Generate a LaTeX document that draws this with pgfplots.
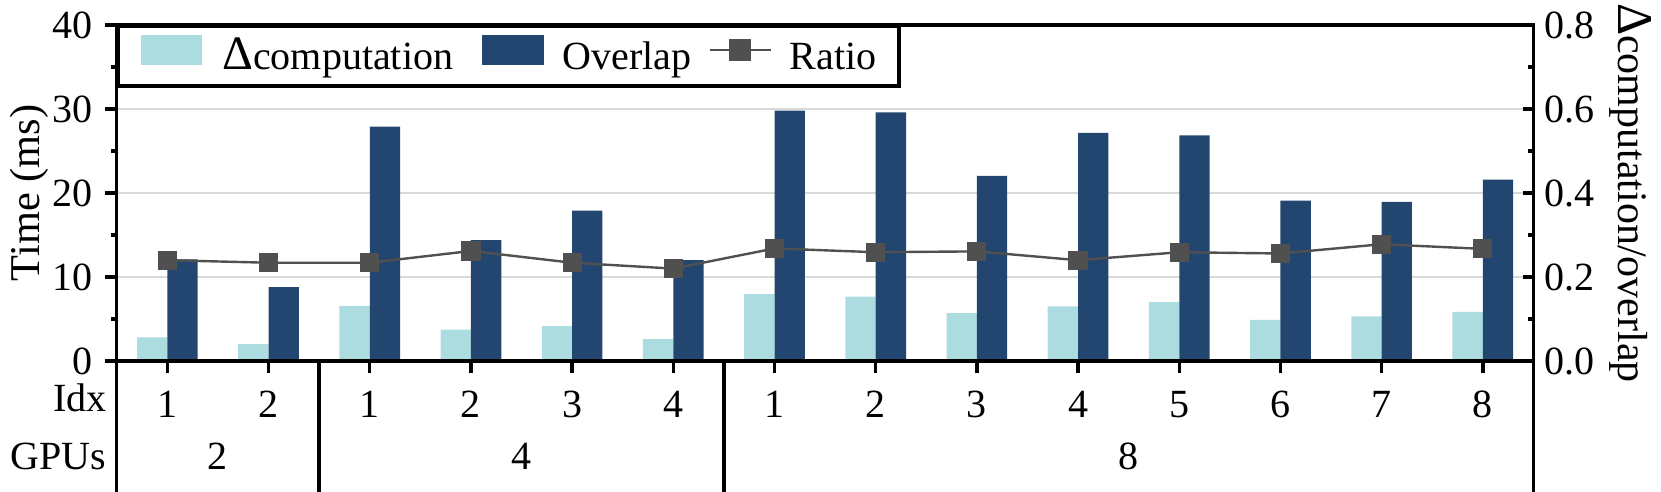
\documentclass[border=0pt]{standalone}
\usepackage{fontspec}
\setmainfont{Liberation Serif}
\usepackage{pgfplots}
\pgfplotsset{compat=1.18}
\definecolor{lightbar}{HTML}{ADDCE0}
\definecolor{darkbar}{HTML}{22466F}
\definecolor{ratiocol}{HTML}{505050}
\definecolor{gridgray}{HTML}{D9D9D9}
\newcommand{\bigdelta}{{\fontsize{12}{12}\selectfont Δ}}
\newcommand{\biggdelta}{{\fontsize{12.5}{12.5}\selectfont Δ}}
\begin{document}
\begin{tikzpicture}
\path[use as bounding box] (0,0) rectangle (415.25pt,-123pt);
\begin{axis}[
  at={(29.2pt,-90.25pt)}, anchor=south west, scale only axis,
  width=354.15pt, height=84pt,
  xmin=-0.5, xmax=13.5, ymin=0, ymax=40,
  enlargelimits=false,
  ybar, bar width=0.3,
  xtick={0,...,13}, xticklabels={1,2,1,2,3,4,1,2,3,4,5,6,7,8},
  ytick={0,10,20,30,40}, minor y tick num=1,
  xtick pos=bottom, ytick pos=left, tick align=outside,
  major tick length=3pt, minor tick length=1.5pt,
  axis line style={line width=0.85pt},
  tick style={black, line width=0.85pt},
  ymajorgrids, grid style={gridgray, line width=0.3pt},
  /pgf/number format/assume math mode=true,
  tick label style={font=\fontsize{10}{12}\selectfont},
  label style={font=\fontsize{10.6}{12}\selectfont},
  xticklabel style={anchor=base, inner sep=0pt, yshift=-11.2pt},
  yticklabel style={anchor=east, inner sep=0pt, xshift=-2.75pt},
  ylabel={Time (ms)},
  ylabel style={at={(axis description cs:-0.0619,0.5)}, anchor=center},
  clip=false,
]
\addplot[fill=lightbar, draw=none, bar shift=-0.15] coordinates {(0,2.8) (1,2.0) (2,6.55) (3,3.75) (4,4.15) (5,2.6) (6,7.95) (7,7.65) (8,5.7) (9,6.5) (10,7.0) (11,4.9) (12,5.3) (13,5.85)};
\addplot[fill=darkbar, draw=none, bar shift=0.15] coordinates {(0,12.1) (1,8.8) (2,27.9) (3,14.4) (4,17.9) (5,12.0) (6,29.8) (7,29.6) (8,22.05) (9,27.15) (10,26.85) (11,19.1) (12,18.95) (13,21.6)};
\draw[line width=0.85pt] (rel axis cs:0,0) -- ++(0pt,-34pt);
\draw[line width=0.85pt] (rel axis cs:1,0) -- ++(0pt,-34pt);
\draw[line width=0.85pt] (axis cs:1.5,0) -- ++(0pt,-34pt);
\draw[line width=0.85pt] (axis cs:5.5,0) -- ++(0pt,-34pt);
\node[anchor=base east, inner sep=0pt, xshift=-2.4pt, yshift=-12.6pt, font=\fontsize{10}{12}\selectfont] at (rel axis cs:0,0) {Idx};
\node[anchor=base east, inner sep=0pt, xshift=-2.4pt, yshift=-27.2pt, font=\fontsize{10}{12}\selectfont] at (rel axis cs:0,0) {GPUs};
\node[anchor=base, inner sep=0pt, yshift=-27.2pt, font=\fontsize{10}{12}\selectfont] at (axis cs:0.5,0) {2};
\node[anchor=base, inner sep=0pt, yshift=-27.2pt, font=\fontsize{10}{12}\selectfont] at (axis cs:3.5,0) {4};
\node[anchor=base, inner sep=0pt, yshift=-27.2pt, font=\fontsize{10}{12}\selectfont] at (axis cs:9.5,0) {8};
\end{axis}
\begin{axis}[
  at={(29.2pt,-90.25pt)}, anchor=south west, scale only axis,
  width=354.15pt, height=84pt,
  xmin=-0.5, xmax=13.5, ymin=0, ymax=0.8,
  enlargelimits=false,
  xtick=\empty,
  ytick={0,0.2,0.4,0.6,0.8}, minor y tick num=1,
  ytick pos=right, yticklabel pos=right, tick align=inside,
  major tick length=2.5pt, minor tick length=1.25pt,
  axis line style={line width=0.85pt},
  tick style={black, line width=0.85pt},
  /pgf/number format/assume math mode=true,
  /pgf/number format/fixed, /pgf/number format/fixed zerofill, /pgf/number format/precision=1,
  tick label style={font=\fontsize{10}{12}\selectfont},
  label style={font=\fontsize{10.5}{12}\selectfont},
  yticklabel style={anchor=west, inner sep=0pt, xshift=2.5pt},
  ylabel={\biggdelta computation/overlap},
  ylabel style={at={(axis description cs:1.0683,0.5)}, anchor=center, rotate=180},
  legend columns=3,
  legend style={at={(0,1)}, anchor=north west, draw=black, line width=0.85pt, fill=white,
    inner xsep=5.6pt, inner ysep=2pt,
    font=\fontsize{10}{12}\selectfont,
    nodes={inner sep=0pt, text height=7pt, text depth=2pt},
    cells={anchor=west},
    /tikz/column 1/.style={column sep=5pt},
    /tikz/column 2/.style={column sep=7.25pt},
    /tikz/column 3/.style={column sep=4.75pt},
    /tikz/column 4/.style={column sep=4.25pt},
    /tikz/column 5/.style={column sep=4.5pt},
  },
  clip=false,
]
\addlegendimage{legend image code/.code={\fill[lightbar] (0pt,-0.875pt) rectangle (14.5pt,5.875pt);}}
\addlegendentry{\bigdelta computation}
\addlegendimage{legend image code/.code={\fill[darkbar] (0pt,-0.875pt) rectangle (14.5pt,5.875pt);}}
\addlegendentry{Overlap}
\addplot[ratiocol, line width=0.6pt, mark=square*, mark size=2.1pt, mark options={solid, fill=ratiocol, draw=ratiocol},
  legend image code/.code={\draw[ratiocol, line width=0.6pt] (0pt,2.5pt) -- (15.25pt,2.5pt); \fill[ratiocol] (5.25pt,0.125pt) rectangle (10pt,4.875pt);}]
  coordinates {(0,0.240) (1,0.234) (2,0.234) (3,0.262) (4,0.234) (5,0.220) (6,0.268) (7,0.259) (8,0.261) (9,0.240) (10,0.259) (11,0.256) (12,0.278) (13,0.267)};
\addlegendentry{Ratio\hspace{1.4pt}}
\end{axis}
\end{tikzpicture}
\end{document}
